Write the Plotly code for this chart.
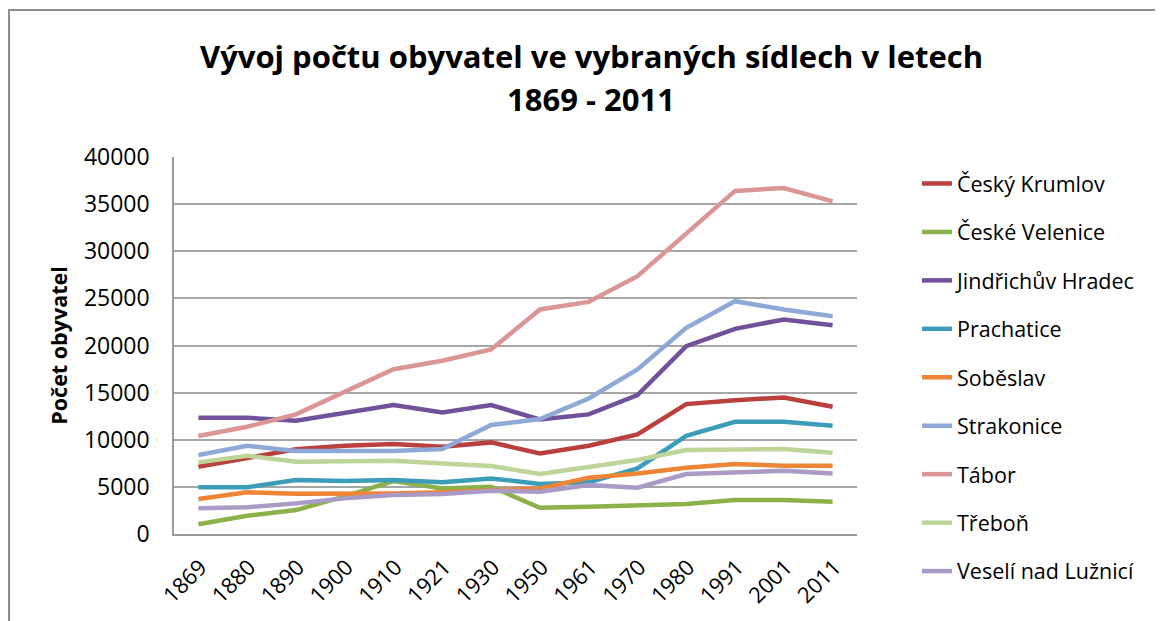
import plotly.graph_objects as go

years = ["1869", "1880", "1890", "1900", "1910", "1921", "1930", "1950",
         "1961", "1970", "1980", "1991", "2001", "2011"]

cesky_krumlov = [7140, 8020, 8980, 9360, 9540, 9260, 9720, 8550, 9360, 10570, 13780, 14200, 14490, 13500]
ceske_velenice = [1030, 1940, 2540, 4000, 5620, 4840, 5020, 2790, 2900, 3070, 3180, 3600, 3600, 3430]
jindrichuv_hradec = [12330, 12330, 12010, 12860, 13680, 12900, 13680, 12150, 12690, 14740, 19930, 21770, 22760, 22160]
prachatice = [4950, 4950, 5720, 5620, 5720, 5480, 5900, 5300, 5480, 6960, 10420, 11910, 11910, 11480]
sobeslav = [3710, 4420, 4280, 4280, 4310, 4420, 4660, 4840, 5970, 6430, 7030, 7420, 7240, 7240]
strakonice = [8380, 9360, 8800, 8800, 8800, 9010, 11560, 12200, 14380, 17460, 21870, 24700, 23820, 23110]
tabor = [10390, 11380, 12690, 15090, 17490, 18380, 19580, 23820, 24630, 27350, 31870, 36400, 36710, 35300]
trebon = [7600, 8300, 7670, 7770, 7770, 7490, 7210, 6360, 7140, 7850, 8910, 9010, 9010, 8620]
veseli = [2720, 2830, 3250, 3780, 4130, 4240, 4590, 4490, 5190, 4910, 6360, 6500, 6710, 6430]

series_names = ["Český Krumlov", "České Velenice", "Jindřichův Hradec", "Prachatice",
                "Soběslav", "Strakonice", "Tábor", "Třeboň", "Veselí nad Lužnicí"]
series_values = [cesky_krumlov, ceske_velenice, jindrichuv_hradec, prachatice,
                 sobeslav, strakonice, tabor, trebon, veseli]
series_colors = ["#B9403D", "#8CB04A", "#71529A", "#3C9DB8", "#EE8435",
                 "#8EA9D5", "#D99694", "#BED599", "#A99BC5"]

title_lines = ["Vývoj počtu obyvatel ve vybraných sídlech v letech", "1869 - 2011"]
y_title = "Počet obyvatel"
y_ticks = [0, 5000, 10000, 15000, 20000, 25000, 30000, 35000, 40000]

FONT = "Open Sans"

fig = go.Figure()
for i, (name, vals, col) in enumerate(zip(series_names, series_values, series_colors)):
    fig.add_trace(go.Scatter(
        x=years, y=vals, name=name, mode="lines",
        line=dict(color=col, width=4.5),
        legendgroup=f"g{i}",
    ))

# page is offset by the default 8px body margin
OFF = 8
W, H = 1163 - OFF, 621 - OFF
L, R, T, B = 174 - OFF, 857 - OFF, 157 - OFF, 534 - OFF

def px_x(x):
    return (x - OFF - L) / (R - L)

def px_y(y):
    return (B - (y - OFF)) / (B - T)

title_annotations = [
    dict(text="<b>" + line + "</b>", xref="paper", yref="paper",
         x=px_x(591), y=px_y(yy), xanchor="center", yanchor="middle",
         showarrow=False, font=dict(family=FONT, size=31, color="#000000"))
    for line, yy in zip(title_lines, [56, 99])
]

fig.update_layout(
    width=W, height=H,
    margin=dict(l=L, r=W - R, t=T, b=H - B, autoexpand=False),
    paper_bgcolor="white", plot_bgcolor="white",
    font=dict(family=FONT, color="#000000", size=22),
    annotations=title_annotations,
    showlegend=True,
    legend=dict(
        x=px_x(917), y=px_y(163), xanchor="left", yanchor="top",
        font=dict(family=FONT, size=21.5, color="#000000"),
        tracegroupgap=17.5, bgcolor="rgba(0,0,0,0)",
        maxheight=560,
    ),
    xaxis=dict(
        type="category", categoryorder="array", categoryarray=years,
        range=[-0.5, len(years) - 0.5],
        showgrid=False, showline=True, linecolor="#9A9A9A", linewidth=1.5,
        ticks="", tickangle=-45, tickfont=dict(family=FONT, size=22),
        ticklabelshift=2, ticklabelstandoff=10,
        zeroline=False,
    ),
    yaxis=dict(
        range=[0, 40000], tickvals=y_ticks, ticktext=[str(v) for v in y_ticks],
        showgrid=True, gridcolor="#A6A6A6", gridwidth=1.5,
        showline=True, linecolor="#9A9A9A", linewidth=1.5,
        ticks="", ticklabelstandoff=18, tickfont=dict(family=FONT, size=23),
        zeroline=False,
        title=dict(text="<b>" + y_title + "</b>", font=dict(family=FONT, size=21.5), standoff=10),
    ),
    shapes=[
        dict(type="line", xref="paper", yref="paper",
             x0=px_x(8), x1=px_x(1163), y0=px_y(10), y1=px_y(10),
             line=dict(color="#8C8C8C", width=2)),
        dict(type="line", xref="paper", yref="paper",
             x0=px_x(9), x1=px_x(9), y0=px_y(10), y1=px_y(625),
             line=dict(color="#8C8C8C", width=2)),
    ],
)

fig.write_html("out.html")
